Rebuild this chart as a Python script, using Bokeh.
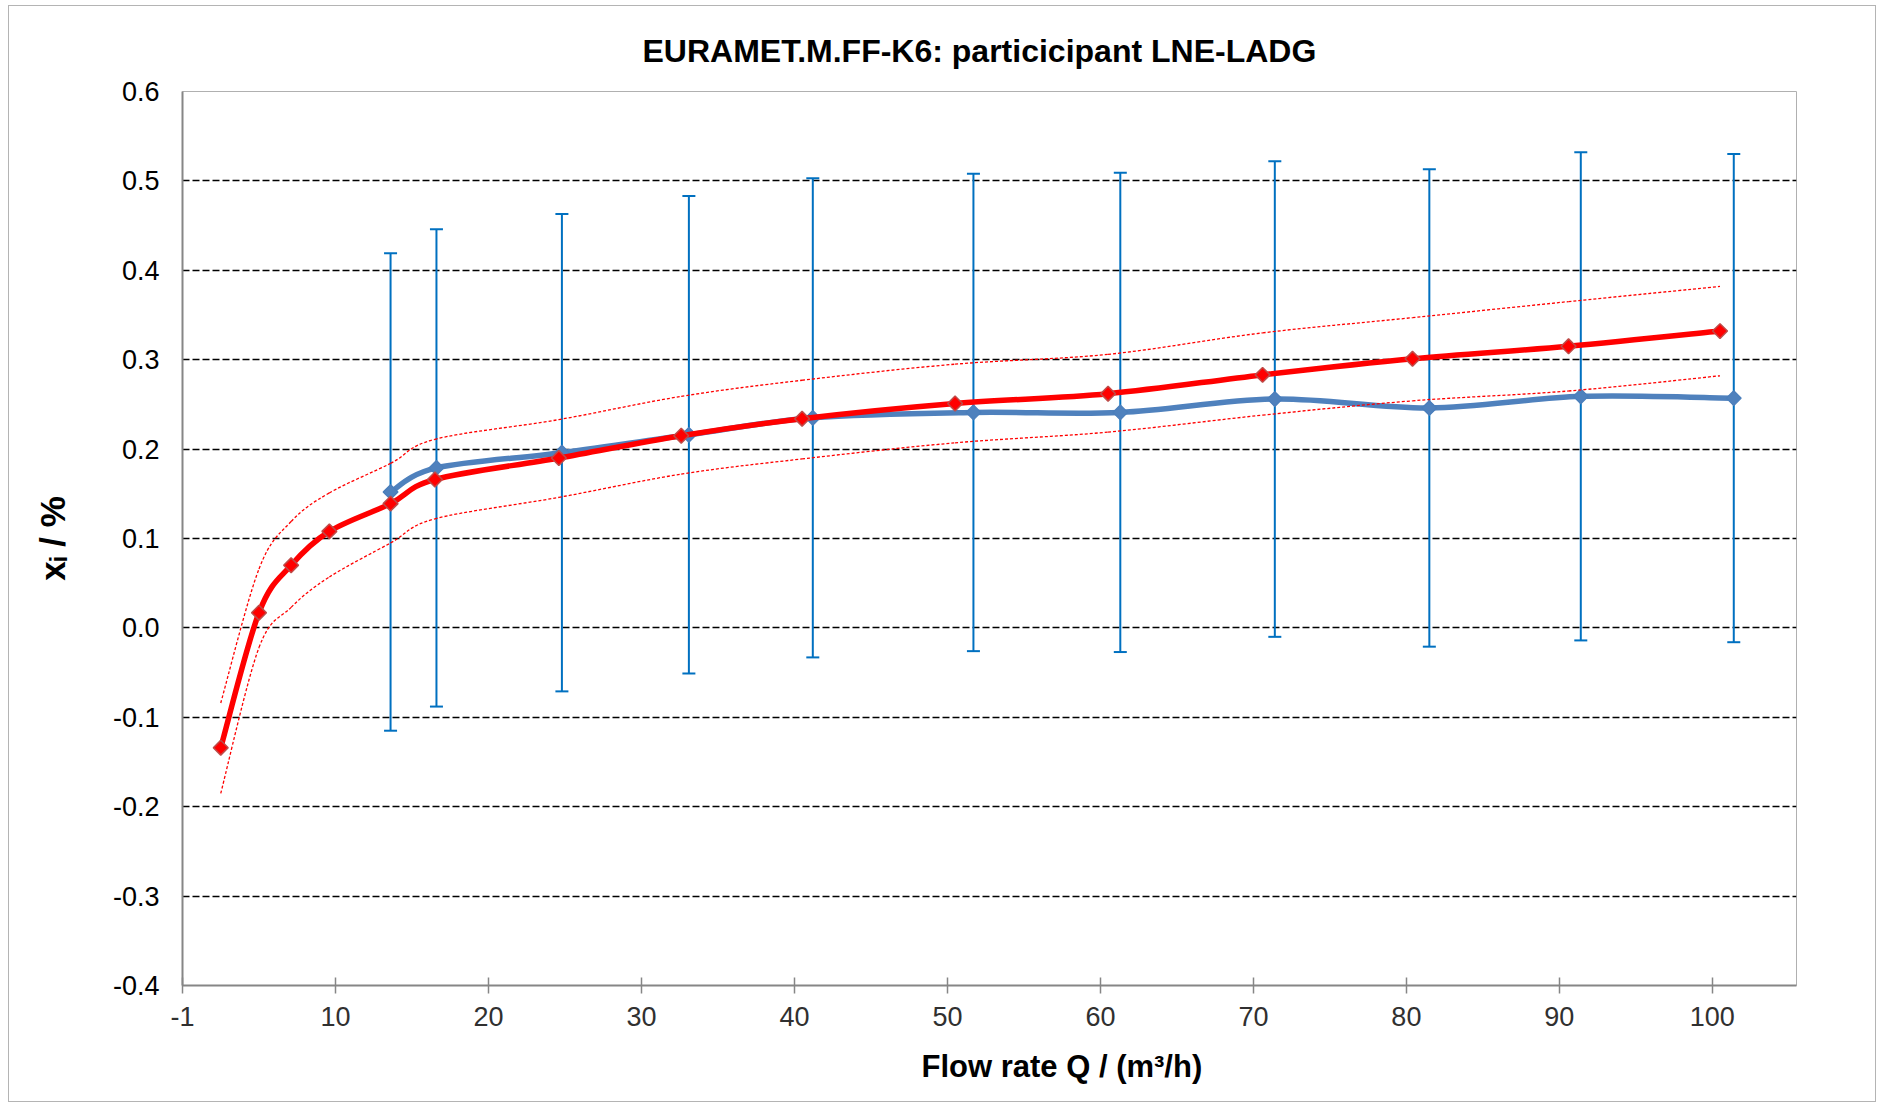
import numpy as np
from bokeh.plotting import figure
from bokeh.models import ColumnDataSource, Whisker, TeeHead, FixedTicker, Range1d, Title
from bokeh.embed import file_html
from bokeh.resources import INLINE

# ---------------- data ----------------
title_text = "EURAMET.M.FF-K6: particicipant LNE-LADG"
x_title = "Flow rate Q / (m³/h)"
y_title = "xᵢ / %"

x_tick_values = [-0.5, 9.5, 19.5, 29.5, 39.5, 49.5, 59.5, 69.5, 79.5, 89.5, 99.5]
x_tick_labels = ["-1", "10", "20", "30", "40", "50", "60", "70", "80", "90", "100"]
y_tick_values = [-0.4, -0.3, -0.2, -0.1, 0.0, 0.1, 0.2, 0.3, 0.4, 0.5, 0.6]
y_tick_labels = ["-0.4", "-0.3", "-0.2", "-0.1", "0.0", "0.1", "0.2", "0.3", "0.4", "0.5", "0.6"]

# reference curve (red) with its upper/lower bounds (dotted)
ref_q = [2.0, 4.5, 6.6, 9.1, 13.1, 16.0, 24.1, 32.1, 40.0, 50.0, 60.0, 70.1, 79.9, 90.1, 100.0]
ref_x = [-0.134, 0.017, 0.070, 0.108, 0.139, 0.166, 0.190, 0.215, 0.234, 0.251, 0.262, 0.283, 0.301, 0.315, 0.332]
ref_upper = [-0.084, 0.066, 0.119, 0.151, 0.184, 0.211, 0.233, 0.259, 0.277, 0.295, 0.306, 0.330, 0.347, 0.365, 0.382]
ref_lower = [-0.185, -0.022, 0.023, 0.057, 0.095, 0.122, 0.146, 0.172, 0.189, 0.207, 0.219, 0.238, 0.254, 0.265, 0.282]

# participant LNE-LADG (blue) with expanded uncertainty
lab_q = [13.1, 16.1, 24.3, 32.6, 40.7, 51.2, 60.8, 70.9, 81.0, 90.9, 100.9]
lab_x = [0.152, 0.179, 0.196, 0.216, 0.235, 0.241, 0.241, 0.256, 0.246, 0.259, 0.257]
lab_u = [0.267, 0.267, 0.267, 0.267, 0.268, 0.267, 0.268, 0.266, 0.267, 0.273, 0.273]

FONT = "Liberation Sans"


def smooth_segments(xs, ys):
    """Cubic Bezier control points (Catmull-Rom style, as Excel's smoothed lines)."""
    xs = np.asarray(xs, float)
    ys = np.asarray(ys, float)
    n = len(xs)
    xp = np.concatenate([[xs[0]], xs, [xs[-1]]])
    yp = np.concatenate([[ys[0]], ys, [ys[-1]]])
    return dict(
        x0=xs[:-1], y0=ys[:-1], x1=xs[1:], y1=ys[1:],
        cx0=xs[:-1] + (xp[2:n + 1] - xp[0:n - 1]) / 6.0,
        cy0=ys[:-1] + (yp[2:n + 1] - yp[0:n - 1]) / 6.0,
        cx1=xs[1:] - (xp[3:n + 2] - xp[1:n]) / 6.0,
        cy1=ys[1:] - (yp[3:n + 2] - yp[1:n]) / 6.0,
    )


p = figure(
    width=1868, height=1097,
    x_range=Range1d(-0.5, 105.0), y_range=Range1d(-0.4, 0.6),
    output_backend="svg", toolbar_location=None,
    min_border_left=173, min_border_right=81, min_border_top=85, min_border_bottom=118,
    title=title_text,
)
p.styles = {"border": "1px solid #b4b4b4", "margin-left": "8px", "margin-top": "5px"}
p.background_fill_color = "white"
p.border_fill_color = "white"
p.outline_line_color = "#b0b0b0"
p.outline_line_width = 1

p.title.align = "left"
p.title.offset = 460
p.title.text_font = FONT
p.title.text_font_size = "32px"
p.title.text_font_style = "bold"
p.title.text_color = "black"
p.title.standoff = 45

# axes
p.xaxis.ticker = FixedTicker(ticks=x_tick_values)
p.xaxis.major_label_overrides = {v: s for v, s in zip(x_tick_values, x_tick_labels)}
p.yaxis.ticker = FixedTicker(ticks=y_tick_values)
p.yaxis.major_label_overrides = {v: s for v, s in zip(y_tick_values, y_tick_labels)}
for ax in (p.xaxis, p.yaxis):
    ax.axis_line_color = "#868686"
    ax.axis_line_width = 2
    ax.major_tick_line_color = "#868686"
    ax.major_tick_line_width = 1.5
    ax.minor_tick_line_color = None
    ax.major_label_text_font = FONT
    ax.major_label_text_font_size = "27px"
p.xaxis.major_tick_in = 8
p.xaxis.major_tick_out = 8
p.xaxis.major_label_standoff = 13
p.xaxis.major_label_text_color = "#303030"
p.yaxis.major_tick_in = 0
p.yaxis.major_tick_out = 0
p.yaxis.major_label_standoff = 23
p.yaxis.major_label_text_color = "black"

# axis titles
p.yaxis.axis_label = y_title
p.yaxis.axis_label_text_font = FONT
p.yaxis.axis_label_text_font_size = "35px"
p.yaxis.axis_label_text_font_style = "bold"
p.yaxis.axis_label_text_color = "black"
p.yaxis.axis_label_standoff = 38
p.add_layout(Title(text=x_title, align="left", offset=739, text_font=FONT,
                   text_font_size="31px", text_font_style="bold", text_color="black",
                   standoff=37), "below")

# grid
p.xgrid.grid_line_color = None
p.ygrid.ticker = FixedTicker(ticks=y_tick_values[1:-1])
p.ygrid.grid_line_color = "black"
p.ygrid.grid_line_width = 1.6
p.ygrid.grid_line_dash = "7 3"

# error bars of participant
lab_src = ColumnDataSource(dict(
    q=lab_q, x=lab_x,
    upper=[a + b for a, b in zip(lab_x, lab_u)],
    lower=[a - b for a, b in zip(lab_x, lab_u)],
))
whisk = Whisker(
    base="q", upper="upper", lower="lower", source=lab_src, dimension="height",
    line_color="#0070C0", line_width=2,
    upper_head=TeeHead(size=13, line_color="#0070C0", line_width=2),
    lower_head=TeeHead(size=13, line_color="#0070C0", line_width=2),
)
p.add_layout(whisk)

# participant line (smoothed) + markers
p.bezier(source=ColumnDataSource(smooth_segments(lab_q, lab_x)),
         x0="x0", y0="y0", x1="x1", y1="y1", cx0="cx0", cy0="cy0", cx1="cx1", cy1="cy1",
         line_color="#4F81BD", line_width=5.5, line_cap="round")
p.scatter(x="q", y="x", source=lab_src, marker="square", angle=np.pi / 4, size=10.5,
          fill_color="#4F81BD", line_color="#4A7EBB", line_width=1.2)

# reference bounds (dotted)
for bound in (ref_upper, ref_lower):
    p.bezier(source=ColumnDataSource(smooth_segments(ref_q, bound)),
             x0="x0", y0="y0", x1="x1", y1="y1", cx0="cx0", cy0="cy0", cx1="cx1", cy1="cy1",
             line_color="#FF0000", line_width=1.3, line_dash="3 2")

# reference line (smoothed) + markers
p.bezier(source=ColumnDataSource(smooth_segments(ref_q, ref_x)),
         x0="x0", y0="y0", x1="x1", y1="y1", cx0="cx0", cy0="cy0", cx1="cx1", cy1="cy1",
         line_color="#FF0000", line_width=5.5, line_cap="round")
p.scatter(x=ref_q, y=ref_x, marker="square", angle=np.pi / 4, size=10.5,
          fill_color="#FF0000", line_color="#BE4B48", line_width=1.5)

open("out.html", "w").write(file_html(p, INLINE))
